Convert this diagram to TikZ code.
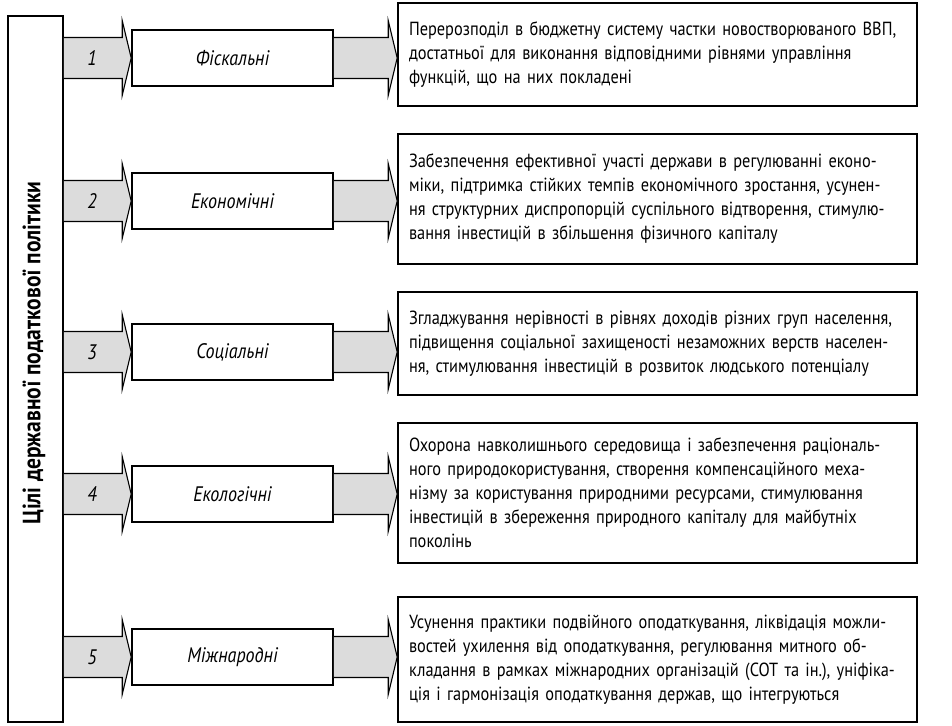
\documentclass[tikz,border=0pt]{standalone}
\usepackage{fontspec}
\setmainfont{PT Sans}[FakeStretch=0.86]
\usetikzlibrary{calc,positioning}

\definecolor{arrowgray}{HTML}{DCDCDC}

\tikzset{
  midbox/.style={draw, line width=1.6pt, fill=white, minimum width=201pt,
    minimum height=56pt, font=\itshape\fontsize{21}{24}\selectfont},
  goalbox/.style={draw, line width=1.6pt, fill=white, text width=497pt,
    inner xsep=11pt, align=left, font=\fontsize{19}{24}\selectfont},
  arrowbody/.style={draw, line width=1.1pt, fill=arrowgray, line join=miter},
  numlabel/.style={font=\itshape\fontsize{21}{24}\selectfont}
}

% block arrow from #1 to the tip #2 (same height)
\newcommand{\blockarrow}[2]{%
  \draw[arrowbody] ($(#1)+(0,20.5)$) -- ($(#2)+(-9,20.5)$) -- ($(#2)+(-9,37.5)$)
    -- (#2) -- ($(#2)+(-9,-37.5)$) -- ($(#2)+(-9,-20.5)$) -- ($(#1)+(0,-20.5)$);}

\begin{document}
\begin{tikzpicture}[x=1pt, y=1pt]
    \useasboundingbox (0,0) rectangle (952,725);

    % Draw left bar with title
    \node[draw, line width=1.6pt, minimum width=55pt, minimum height=706pt] (bar) at (35.5,356) {};
    \node[rotate=90, font=\bfseries\fontsize{25}{28}\selectfont] (title) at (34,372) {Цілі державної податкової політики};

    % Draw middle boxes
    \foreach \i/\y/\name in {1/667/Фіскальні, 2/524/Економічні, 3/373/Соціальні,
      4/231/Екологічні, 5/68/Міжнародні}
      \node[midbox] (m\i) at (232.5,\y) {\name};

    % Draw goal boxes
    \node[goalbox, minimum height=103pt] (r1) at (657.5,670.5) {Перерозподіл в бюджетну систему частки новостворюваного ВВП,\\
      достатньої для виконання відповідними рівнями управління\\
      функцій, що на них покладені};
    \node[goalbox, minimum height=130pt] (r2) at (657.5,526) {Забезпечення ефективної участі держави в регулюванні еконо-\\
      міки, підтримка стійких темпів економічного зростання, усунен-\\
      ня структурних диспропорцій суспільного відтворення, стимулю-\\
      вання інвестицій в збільшення фізичного капіталу};
    \node[goalbox, minimum height=103pt] (r3) at (657.5,381.5) {Згладжування нерівності в рівнях доходів різних груп населення,\\
      підвищення соціальної захищеності незаможних верств населен-\\
      ня, стимулювання інвестицій в розвиток людського потенціалу};
    \node[goalbox, minimum height=140pt] (r4) at (657.5,232) {Охорона навколишнього середовища і забезпечення раціональ-\\
      ного природокористування, створення компенсаційного меха-\\
      нізму за користування природними ресурсами, стимулювання\\
      інвестицій в збереження природного капіталу для майбутніх\\
      поколінь};
    \node[goalbox, minimum height=125pt] (r5) at (657.5,65.5) {Усунення практики подвійного оподаткування, ліквідація можли-\\
      востей ухилення від оподаткування, регулювання митного об-\\
      кладання в рамках міжнародних організацій (СОТ та ін.), уніфіка-\\
      ція і гармонізація оподаткування держав, що інтегруються};

    % Draw block arrows
    \foreach \i in {1,...,5} {
      \coordinate (s\i) at (bar.east |- m\i.west);
      \coordinate (t\i) at (r\i.west |- m\i.east);
      \blockarrow{s\i}{m\i.west}
      \blockarrow{m\i.east}{t\i}
      \node[numlabel] (n\i) at (92,0 |- m\i.west) {\i};
    }

  \end{tikzpicture}
\end{document}
